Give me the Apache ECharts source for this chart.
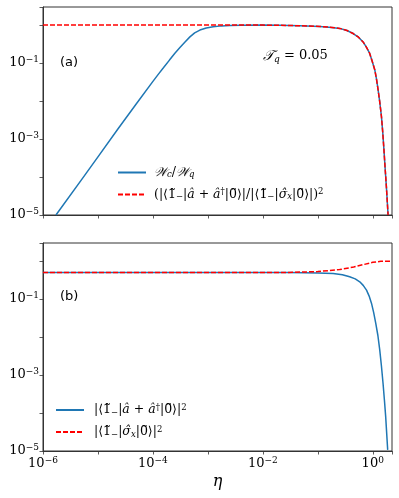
<!DOCTYPE html>
<html>
<head>
<meta charset="utf-8">
<script src="https://cdn.jsdelivr.net/npm/echarts@6/dist/echarts.min.js"></script>
<style>
  html, body { margin: 0; padding: 0; background: #fff; }
  #main { width: 399px; height: 498px; }
</style>
</head>
<body>
<div id="main"></div>
<script>
// panel (a): W_c / W_q (solid) and amplitude ratio (dashed)
var etaWa = [1.72e-6, 5e-6, 1e-5, 2.34e-5, 5e-5, 1e-4, 1.26e-4, 1.54e-4, 2.0e-4, 2.51e-4, 3.1e-4, 3.8e-4, 4.71e-4, 5.75e-4, 7.16e-4, 9.33e-4, 1.25e-3, 1.78e-3, 2.51e-3, 3.98e-3, 1e-2, 0.02, 0.047, 0.109, 0.18, 0.251, 0.34, 0.44, 0.55, 0.667, 0.77, 0.88, 0.98, 1.09, 1.17, 1.25, 1.34, 1.44, 1.52, 1.60, 1.68, 1.77, 1.90];
var valWa = [1.0e-5, 8.4e-5, 3.4e-4, 1.9e-3, 8.5e-3, 0.033, 0.0513, 0.074, 0.120, 0.182, 0.257, 0.355, 0.49, 0.624, 0.741, 0.841, 0.906, 0.955, 0.98, 0.995, 1.0, 0.99, 0.96, 0.92, 0.87, 0.82, 0.72, 0.60, 0.48, 0.36, 0.26, 0.18, 0.11, 0.066, 0.038, 0.020, 9.5e-3, 3.9e-3, 1.5e-3, 5.1e-4, 1.7e-4, 5.6e-5, 1.0e-5];
var etaRa = [1e-6, 1e-3, 1e-2, 0.02, 0.047, 0.109, 0.18, 0.251, 0.34, 0.44, 0.55, 0.667, 0.77, 0.88, 0.98, 1.09, 1.17, 1.25, 1.34, 1.44, 1.52, 1.60, 1.68, 1.77, 1.90];
var valRa = [1.0, 1.0, 1.0, 0.99, 0.96, 0.92, 0.87, 0.82, 0.72, 0.60, 0.48, 0.36, 0.26, 0.18, 0.11, 0.066, 0.038, 0.020, 9.5e-3, 3.9e-3, 1.5e-3, 5.1e-4, 1.7e-4, 5.6e-5, 1.0e-5];

// panel (b): |<1|a+a^+|0>|^2 (solid) and |<1|sigma_x|0>|^2 (dashed)
var etaBb = [1e-6, 1e-2, 0.03, 0.1, 0.19, 0.28, 0.38, 0.48, 0.58, 0.67, 0.77, 0.86, 0.95, 1.04, 1.135, 1.24, 1.34, 1.44, 1.54, 1.63, 1.72, 1.87];
var valBb = [0.5, 0.5, 0.5, 0.49, 0.474, 0.44, 0.386, 0.34, 0.285, 0.23, 0.172, 0.12, 0.077, 0.044, 0.023, 0.011, 4.6e-3, 1.7e-3, 6.0e-4, 2.2e-4, 7.9e-5, 1.07e-5];
var etaRb = [1e-6, 1e-2, 0.03, 0.1, 0.25, 0.45, 0.7, 1.0, 1.4, 2.24];
var valRb = [0.5, 0.5, 0.505, 0.53, 0.6, 0.7, 0.82, 0.93, 0.99, 1.0];

var xEvenExp = [-6, -4, -2, 0];
var yOddExp = [-5, -3, -1];

var legendText = {
  wRatio: '{i|\uD835\uDCB2}{sub|c}{r|/}{i|\uD835\uDCB2}{sub|q}',
  ampRatio: '{r|(|\u27E81\u0303}{sub|\u2212}{r||}{i|a\u0302}{r| + }{i|a\u0302}{sup|\u2020}{r||0\u0303\u27E9|/|\u27E81\u0303}{sub|\u2212}{r||}{i|\u03C3\u0302}{sub|x}{r||0\u0303\u27E9|)}{sup|2}',
  ampA: '{r||\u27E81\u0303}{sub|\u2212}{r||}{i|a\u0302}{r| + }{i|a\u0302}{sup|\u2020}{r||0\u0303\u27E9|}{sup|2}',
  ampS: '{r||\u27E81\u0303}{sub|\u2212}{r||}{i|\u03C3\u0302}{sub|x}{r||0\u0303\u27E9|}{sup|2}'
};

var serif = "'DejaVu Serif', serif";
var mathRich = {
  r: { fontFamily: serif, fontSize: 12.5, color: '#000', lineHeight: 14 },
  i: { fontFamily: serif, fontStyle: 'italic', fontSize: 12.5, color: '#000', lineHeight: 14 },
  sub: { fontFamily: serif, fontStyle: 'italic', fontSize: 8.5, color: '#000', lineHeight: 8, verticalAlign: 'bottom' },
  sup: { fontFamily: serif, fontSize: 8.5, color: '#000', lineHeight: 8, verticalAlign: 'top' }
};
var tickRich = {
  b: { fontFamily: serif, fontSize: 13, color: '#000', lineHeight: 16 },
  s: { fontFamily: serif, fontSize: 9, color: '#000', lineHeight: 9, verticalAlign: 'top' }
};

function pairs(xs, ys) {
  return xs.map(function(x, i) { return [x, ys[i]]; });
}

function powLabel(allowed) {
  return function(v) {
    var l = Math.log10(v);
    var e = Math.round(l);
    if (Math.abs(l - e) > 1e-6 || allowed.indexOf(e) < 0) return '';
    return '{b|10}{s|' + (e < 0 ? '\u2212' + (-e) : e) + '}';
  };
}

var frame = '#333';
function xAxisCfg(grid, labels) {
  return {
    type: 'log', gridIndex: grid, min: 1e-6, max: 2.24,
    axisLine: { show: true, onZero: false, lineStyle: { color: frame, width: 1 } },
    axisTick: { show: true, inside: false, length: 3.5, lineStyle: { color: frame, width: 0.8 } },
    axisLabel: { show: labels, margin: 5, fontFamily: serif, formatter: powLabel(xEvenExp), rich: tickRich, hideOverlap: false, showMinLabel: true, showMaxLabel: true },
    splitLine: { show: false }
  };
}
function yAxisCfg(grid) {
  return {
    type: 'log', gridIndex: grid, min: 1e-5, max: 3,
    axisLine: { show: true, lineStyle: { color: frame, width: 1 } },
    axisTick: { show: true, inside: false, length: 3.5, lineStyle: { color: frame, width: 0.8 } },
    axisLabel: { margin: 4, fontFamily: serif, formatter: powLabel(yOddExp), rich: tickRich, hideOverlap: false, showMinLabel: true },
    splitLine: { show: false }
  };
}

var blue = '#1f77b4', red = '#ff0000';
function lineSeries(name, xi, data, color, dashed) {
  return {
    name: name, type: 'line', xAxisIndex: xi, yAxisIndex: xi,
    data: data, showSymbol: false, symbol: 'none',
    smooth: false, clip: true,
    lineStyle: { color: color, width: 1.5, type: dashed ? [5, 2] : 'solid' },
    itemStyle: { color: color },
    animation: false, z: dashed ? 3 : 2
  };
}

var myChart = echarts.init(document.getElementById('main'), null, { renderer: 'canvas' });

var option = {
  animation: false,
  backgroundColor: '#fff',
  grid: [
    { left: 43, top: 7, right: 7, height: 208, show: true, borderColor: frame, borderWidth: 1, backgroundColor: 'transparent' },
    { left: 43, top: 243, right: 7, height: 208, show: true, borderColor: frame, borderWidth: 1, backgroundColor: 'transparent' }
  ],
  xAxis: [
    xAxisCfg(0, false),
    Object.assign(xAxisCfg(1, true), {
      name: '\u03B7', nameLocation: 'middle', nameGap: 23,
      nameTextStyle: { fontFamily: serif, fontStyle: 'italic', fontSize: 16, color: '#000' }
    })
  ],
  yAxis: [yAxisCfg(0), yAxisCfg(1)],
  legend: [
    {
      left: 117, top: 166, padding: 0, orient: 'vertical', itemWidth: 28, itemHeight: 14, itemGap: 8,
      selectedMode: false, data: ['wRatio', 'ampRatio'],
      itemStyle: { opacity: 0 },
      formatter: function(n) { return legendText[n]; },
      textStyle: { fontFamily: serif, rich: mathRich, padding: [0, 0, 0, 3] }
    },
    {
      left: 55, top: 403, padding: 0, orient: 'vertical', itemWidth: 28, itemHeight: 14, itemGap: 8,
      selectedMode: false, data: ['ampA', 'ampS'],
      itemStyle: { opacity: 0 },
      formatter: function(n) { return legendText[n]; },
      textStyle: { fontFamily: serif, rich: mathRich, padding: [0, 0, 0, 5] }
    }
  ],
  graphic: [
    { type: 'text', left: 60, top: 56, style: { text: '(a)', font: '13px "DejaVu Sans"', fill: '#000' } },
    { type: 'text', left: 60, top: 290, style: { text: '(b)', font: '13px "DejaVu Sans"', fill: '#000' } },
    {
      type: 'text', left: 263, top: 49,
      style: {
        text: '{i|\uD835\uDCAF}{sub|q}{r| = 0.05}',
        rich: {
          r: { fontFamily: serif, fontSize: 13, fill: '#000', lineHeight: 16 },
          i: { fontFamily: serif, fontStyle: 'italic', fontSize: 14, fill: '#000', lineHeight: 16 },
          sub: { fontFamily: serif, fontStyle: 'italic', fontSize: 9, fill: '#000', lineHeight: 9, verticalAlign: 'bottom' }
        }
      }
    }
  ],
  series: [
    lineSeries('wRatio', 0, pairs(etaWa, valWa), blue, false),
    lineSeries('ampRatio', 0, pairs(etaRa, valRa), red, true),
    lineSeries('ampA', 1, pairs(etaBb, valBb), blue, false),
    lineSeries('ampS', 1, pairs(etaRb, valRb), red, true)
  ]
};

myChart.setOption(option);
</script>
</body>
</html>
